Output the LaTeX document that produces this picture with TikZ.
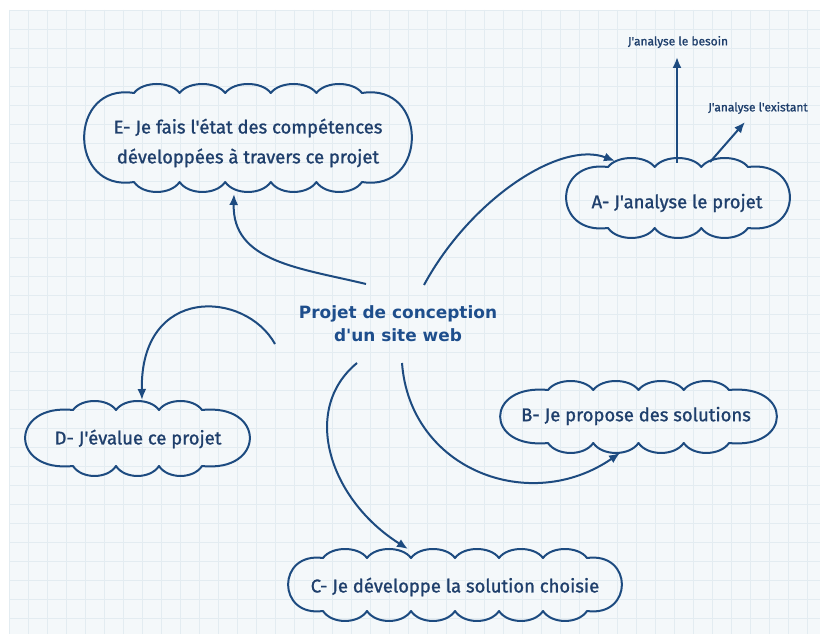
\documentclass[tikz,border=0pt]{standalone}
\usepackage{fontspec}
\usetikzlibrary{arrows.meta}
\newfontfamily\handfont[FakeBold=1.2]{Fira Sans}
\newfontfamily\centerfont{DejaVu Sans}
\definecolor{linec}{HTML}{1D4B80}
\definecolor{textc}{HTML}{1F3F6C}
\definecolor{ptext}{HTML}{1E4E8C}
\definecolor{gridbg}{HTML}{F4F8FA}
\definecolor{gridln}{HTML}{E3ECF1}
\tikzset{
  cloudline/.style={draw=linec, line width=2bp, line join=round},
  conn/.style={draw=linec, line width=2bp, -{Latex[length=11bp,width=9bp]}},
  boxtext/.style={font=\handfont\fontsize{18.5}{30}\selectfont, text=textc, align=center, inner sep=0pt},
  smalltext/.style={font=\handfont\fontsize{12}{14}\selectfont, text=textc, inner sep=0pt},
  centertext/.style={font=\centerfont\bfseries\fontsize{17}{23}\selectfont, text=ptext, align=center, inner sep=0pt},
}
\newcommand\cloudpath[6]{%
\pgfmathsetmacro\cxL{#1+#6}\pgfmathsetmacro\cxR{#3-#6}%
\pgfmathsetmacro\cyT{#2+9}\pgfmathsetmacro\cyB{#4-10}%
\pgfmathsetmacro\cw{(\cxR-\cxL)/#5}%
\pgfmathsetmacro\cs{1.33*#6}%
\pgfmathsetmacro\ca{0.12*(\cyB-\cyT)}%
\draw[cloudline] (\cxL,\cyT)
 \foreach \i in {1,...,#5}{ .. controls ({\cxL+(\i-1)*\cw+0.2*\cw},{\cyT-12}) and ({\cxL+\i*\cw-0.2*\cw},{\cyT-12}) .. ({\cxL+\i*\cw},\cyT)}
 .. controls ({\cxR+\cs},{\cyT-\ca}) and ({\cxR+\cs},{\cyB+\ca}) .. (\cxR,\cyB)
 \foreach \i in {1,...,#5}{ .. controls ({\cxR-(\i-1)*\cw-0.2*\cw},{\cyB+13.3}) and ({\cxR-\i*\cw+0.2*\cw},{\cyB+13.3}) .. ({\cxR-\i*\cw},\cyB)}
 .. controls ({\cxL-\cs},{\cyB+\ca}) and ({\cxL-\cs},{\cyT-\ca}) .. cycle;
}
\begin{document}
\begin{tikzpicture}[x=1bp,y=-1bp]
\useasboundingbox (0,0) rectangle (820,634);
\fill[white] (0,0) rectangle (820,634);
\fill[gridbg] (9,10) rectangle (820,634);
\foreach \gx in {9,28,...,820} \draw[gridln, line width=0.8bp] (\gx,10) -- (\gx,634);
\foreach \gy in {10,29,...,634} \draw[gridln, line width=0.8bp] (9,\gy) -- (820,\gy);

% clouds
\cloudpath{84}{84}{412}{192}{5}{50}
\cloudpath{566}{158}{790}{238}{3}{42}
\cloudpath{500}{381}{777}{453}{4}{48}
\cloudpath{288}{549}{622}{621}{6}{35}
\cloudpath{25}{401}{250}{476}{3}{48}

% nodes
\node[centertext] (P) at (398,324) {Projet de conception\\d'un site web};
\node[boxtext] (E) at (248,143) {E- Je fais l'état des compétences\\développées à travers ce projet};
\node[boxtext] (A) at (677,203) {A- J'analyse le projet};
\node[boxtext] (B) at (636,416) {B- Je propose des solutions};
\node[boxtext] (C) at (455,587) {C- Je développe la solution choisie};
\node[boxtext] (D) at (138,439) {D- J'évalue ce projet};
\node[smalltext] (lb) at (678,42) {J'analyse le besoin};
\node[smalltext] (le) at (758,108) {J'analyse l'existant};

% connectors
\draw[conn] ([shift={(26,-39)}]P.center) .. controls (470,200) and (560,140) .. ([shift={(-62,-42)}]A.center);
\draw[conn] ([shift={(-32,-40)}]P.center) .. controls (300,268) and (232,262) .. ([shift={(-14,51)}]E.center);
\draw[conn] ([shift={(-123,20)}]P.center) .. controls (245,290) and (140,285) .. ([shift={(4,-39)}]D.center);
\draw[conn] ([shift={(-41,39)}]P.center) .. controls (300,410) and (330,500) .. ([shift={(-47,-38)}]C.center);
\draw[conn] ([shift={(4,39)}]P.center) .. controls (410,470) and (530,515) .. ([shift={(-16,37)}]B.center);
\draw[conn] ([shift={(0,-40)}]A.center) -- ([shift={(-1,15)}]lb.center);
\draw[conn] ([shift={(33,-41)}]A.center) -- ([shift={(-13,14)}]le.center);
\end{tikzpicture}
\end{document}
